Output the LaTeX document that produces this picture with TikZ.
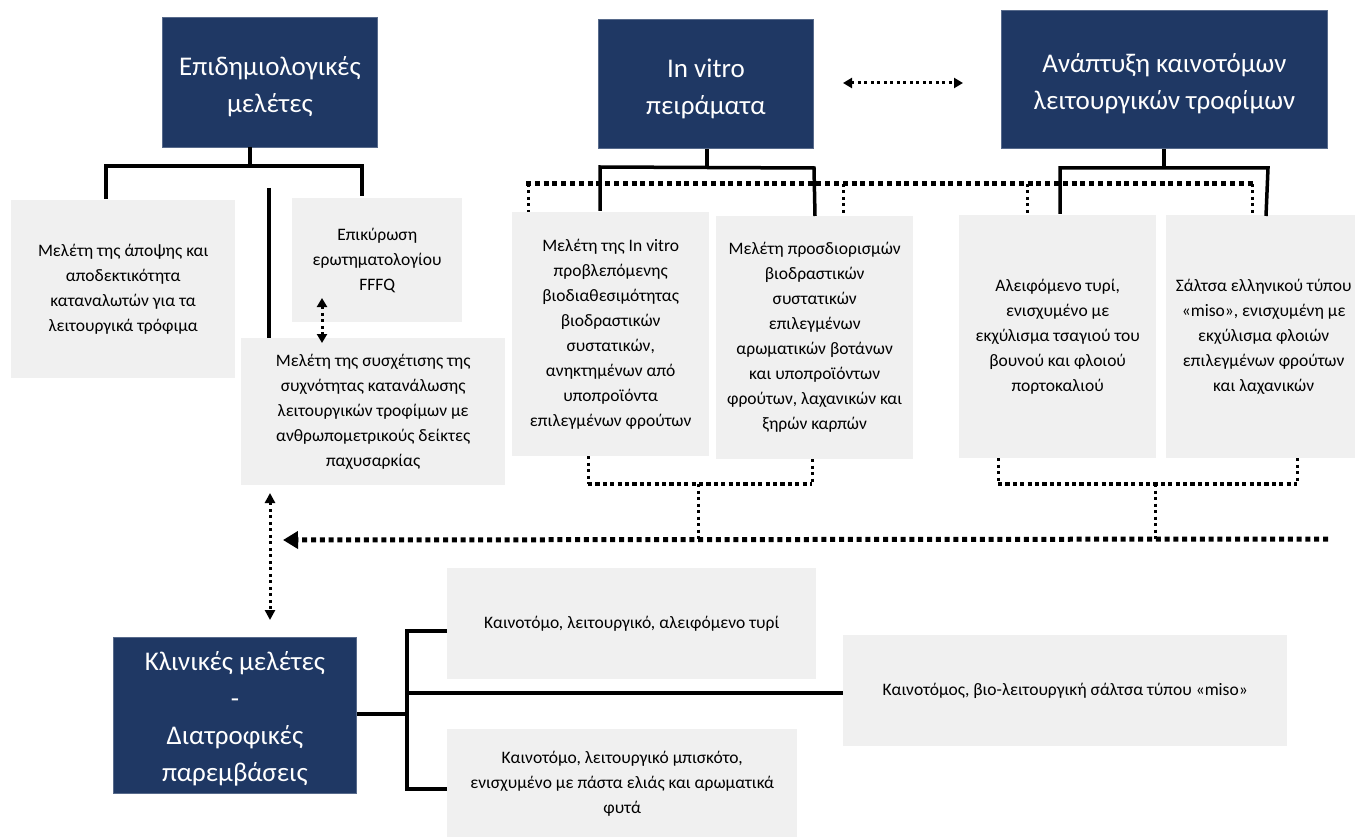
\documentclass[tikz,border=0pt]{standalone}
\usepackage{fontspec}
\setmainfont{Carlito}
\usetikzlibrary{arrows.meta}
\definecolor{navy}{HTML}{1F3864}
\definecolor{panel}{HTML}{F0F0F0}
\begin{document}
\begin{tikzpicture}[x=1pt,y=-1pt,
  head/.style={anchor=north west, fill=navy, draw=navy!75!white, line width=0.8pt,
    inner sep=0pt},
  headtext/.style={text=white, align=center, inner sep=0pt,
    font=\fontsize{27}{37}\selectfont},
  panelbox/.style={anchor=north west, fill=panel, align=center, inner sep=0pt,
    font=\fontsize{17.5}{25}\selectfont},
  link/.style={line width=3.5pt},
  dotbig/.style={line width=5pt, dash pattern=on 5pt off 3.8pt},
  dotmid/.style={line width=4.2pt, dash pattern=on 4.2pt off 3.2pt},
  dotthin/.style={line width=3pt, dash pattern=on 3pt off 3.5pt},
  smalltip/.style={{Triangle[length=9pt,width=10pt]}-{Triangle[length=9pt,width=10pt]}},
]
\fill[white] (0,0) rectangle (1355,837);
\useasboundingbox (0,0) rectangle (1355,837);

% heading boxes
\node[head, minimum width=215pt, minimum height=130pt] (epid) at (162,17) {};
\node[headtext] (epidT) at ([yshift=-4pt]epid.center) {Επιδημιολογικές\\μελέτες};
\node[head, minimum width=215pt, minimum height=129pt] (ivt) at (598,19) {};
\node[headtext] (ivtT) at ([yshift=-5pt]ivt.center) {In vitro\\πειράματα};
\node[head, minimum width=326pt, minimum height=138pt] (anap) at (1001,10) {};
\node[headtext] (anapT) at ([yshift=-4pt]anap.center) {Ανάπτυξη καινοτόμων\\λειτουργικών τροφίμων};
\node[head, minimum width=243pt, minimum height=156pt] (klin) at (113,637) {};
\node[headtext] (klinT) at ([yshift=-3pt]klin.center) {Κλινικές μελέτες\\-\\Διατροφικές\\παρεμβάσεις};

% panels under the epidemiological studies
\node[panelbox, minimum width=224pt, minimum height=178pt] (pa) at (11,200)
  {Μελέτη της άποψης και\\αποδεκτικότητα\\καταναλωτών για τα\\λειτουργικά τρόφιμα};
\node[panelbox, minimum width=170pt, minimum height=124pt] (pf) at (292,198)
  {Επικύρωση\\ερωτηματολογίου\\FFFQ};
\node[panelbox, minimum width=264pt, minimum height=147pt] (ps) at (241,338)
  {Μελέτη της συσχέτισης της\\συχνότητας κατανάλωσης\\λειτουργικών τροφίμων με\\ανθρωπομετρικούς δείκτες\\παχυσαρκίας};

% panels under the in vitro experiments
\node[panelbox, minimum width=197pt, minimum height=244pt] (pv1) at (512,212)
  {Μελέτη της In vitro\\προβλεπόμενης\\βιοδιαθεσιμότητας\\βιοδραστικών\\συστατικών,\\ανηκτημένων από\\υποπροϊόντα\\επιλεγμένων φρούτων};
\node[panelbox, minimum width=197pt, minimum height=243pt] (pv2) at (716,216)
  {Μελέτη προσδιορισμών\\βιοδραστικών\\συστατικών\\επιλεγμένων\\αρωματικών βοτάνων\\και υποπροϊόντων\\φρούτων, λαχανικών και\\ξηρών καρπών};

% panels under the new functional foods
\node[panelbox, minimum width=197pt, minimum height=243pt] (pn1) at (959,215)
  {Αλειφόμενο τυρί,\\ενισχυμένο με\\εκχύλισμα τσαγιού του\\βουνού και φλοιού\\πορτοκαλιού};
\node[panelbox, minimum width=195pt, minimum height=243pt] (pn2) at (1166,215)
  {Σάλτσα ελληνικού τύπου\\«miso», ενισχυμένη με\\εκχύλισμα φλοιών\\επιλεγμένων φρούτων\\και λαχανικών};

% products of the clinical studies
\node[panelbox, minimum width=369pt, minimum height=111pt] (pk1) at (447,568)
  {Καινοτόμο, λειτουργικό, αλειφόμενο τυρί};
\node[panelbox, minimum width=444pt, minimum height=111pt] (pk2) at (843,635)
  {Καινοτόμος, βιο-λειτουργική σάλτσα τύπου «miso»};
\node[panelbox, minimum width=350pt, minimum height=110pt] (pk3) at (447,729)
  {Καινοτόμο, λειτουργικό μπισκότο,\\ενισχυμένο με πάστα ελιάς και αρωματικά\\φυτά};

% junction points
\coordinate (e0) at (250,147);   \coordinate (e1) at (250,166);
\coordinate (eL) at (106,166);   \coordinate (eR) at (362,166);
\coordinate (eLd) at (106,199);  \coordinate (eRd) at (362,196);
\coordinate (m0) at (269,188);   \coordinate (m1) at (269,338);
\coordinate (f0) at (322,298);   \coordinate (f1) at (322,343);

\coordinate (v0) at (707,148);   \coordinate (v1) at (707,167.5);
\coordinate (vL) at (600,167);   \coordinate (vR) at (814,168);
\coordinate (vLd) at (600,211);  \coordinate (vRd) at (815,216);

\coordinate (n0) at (1164,148);  \coordinate (n1) at (1164,168);
\coordinate (nL) at (1060,168);  \coordinate (nR) at (1268,168);
\coordinate (nLd) at (1060,214); \coordinate (nRd) at (1266,216);

\coordinate (t0) at (526,184);   \coordinate (t1) at (1254,184);
\coordinate (ta) at (528,184);   \coordinate (tb) at (843,184);
\coordinate (tc) at (1027,184);  \coordinate (td) at (1252,184);

\coordinate (b1a) at (588,456);  \coordinate (b1b) at (812,459);
\coordinate (b1L) at (588,484);  \coordinate (b1R) at (812,484);
\coordinate (b1m) at (698,484);  \coordinate (b1e) at (698,539);
\coordinate (b2a) at (998,458);  \coordinate (b2b) at (1297,458);
\coordinate (b2L) at (998,484);  \coordinate (b2R) at (1297,484);
\coordinate (b2m) at (1155,484); \coordinate (b2e) at (1155,539);
\coordinate (lr) at (1328,539);  \coordinate (ll) at (283,540);

\coordinate (c0) at (270,493);   \coordinate (c1) at (270,620);
\coordinate (h0) at (843,83);    \coordinate (h1) at (963,83);

\coordinate (k0) at (355,714);   \coordinate (k1) at (407,714);
\coordinate (kT) at (407,631);   \coordinate (kB) at (407,789);
\coordinate (kM) at (407,693);

% epidemiological branch
\draw[link] (e0) -- (e1);
\draw[link] (eLd) -- (eL) -- (eR) -- (eRd);
\draw[link] (m0) -- (m1);
\draw[dotthin, smalltip] (f0) -- (f1);

% dotted bracket over the lab and product panels
\draw[dotbig] (t0) -- (t1);
\draw[dotthin] (ta) -- (ta |- pv1.north);
\draw[dotthin] (tb) -- (tb |- pv2.north);
\draw[dotthin] (tc) -- (tc |- pn1.north);
\draw[dotthin] (td) -- (td |- pn2.north);

% in vitro branch
\draw[link] (ivt.south -| v0) -- (v1);
\draw[link] (vLd) -- (vL) -- (vR) -- (vRd);

% new foods branch
\draw[link] (anap.south -| n0) -- (n1);
\draw[link] (nLd) -- (nL) -- (nR) -- (nRd);

% link between the lab work and the new foods
\draw[dotthin, smalltip] (h0) -- (h1);

% results gathered below the panels
\draw[dotthin] (b1a) -- (b1L);
\draw[dotthin] (b1b) -- (b1R);
\draw[dotmid] (b1L) -- (b1R);
\draw[dotthin] (b1m) -- (b1e);
\draw[dotthin] (b2a) -- (b2L);
\draw[dotthin] (b2b) -- (b2R);
\draw[dotmid] (b2L) -- (b2R);
\draw[dotthin] (b2m) -- (b2e);
\draw[dotbig, -{Triangle[length=15pt,width=17pt]}] (lr) -- (ll);

% link to the clinical studies
\draw[dotthin, {Triangle[length=10pt,width=10pt]}-{Triangle[length=10pt,width=10pt]}] (c0) -- (c1);

% clinical studies branch
\draw[link] (klin.east |- k0) -- (k1);
\draw[link] (kT -| pk1.west) -- (kT) -- (kB) -- (kB -| pk3.west);
\draw[link] (kM) -- (kM -| pk2.west);
\end{tikzpicture}
\end{document}
